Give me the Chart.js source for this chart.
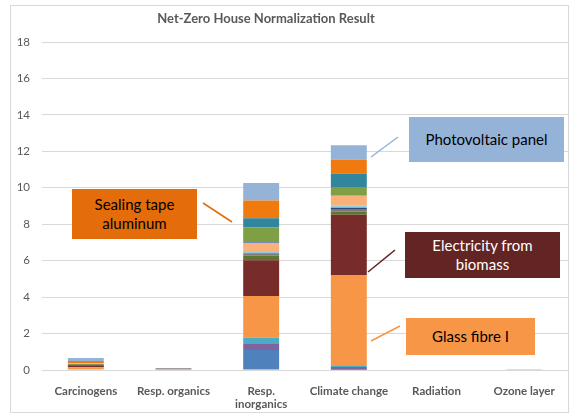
<!DOCTYPE html>
<html>
<head>
<meta charset="utf-8">
<script src="https://cdn.jsdelivr.net/npm/chart.js@4.4.1/dist/chart.umd.min.js"></script>
<style>
  html, body { margin: 0; padding: 0; background: #fff; }
  #wrap { position: relative; width: 572px; height: 415px; overflow: hidden; font-family: Lato, "Open Sans", sans-serif; }
  #frame { position: absolute; left: 10px; top: 5px; width: 559px; height: 408px; border: 1px solid #D9D9D9; box-sizing: border-box; }
  canvas { position: absolute; left: 0; top: 0; }
  #title { position: absolute; top: 10px; left: 155px; width: 222px; text-align: center; font: bold 13px Lato, sans-serif; color: #595959; white-space: nowrap; }
  .callout { position: absolute; box-sizing: border-box; display: flex; align-items: center; justify-content: center; text-align: center; font: 15px Lato, sans-serif; line-height: 1.25; }
  svg { position: absolute; left: 0; top: 0; }
</style>
</head>
<body>
<div id="wrap">
  <div id="frame"></div>
  <canvas id="c" width="572" height="415"></canvas>
  <div id="title">Net-Zero House Normalization Result</div>
  <svg width="572" height="415">
    <line x1="203" y1="203" x2="232" y2="222" stroke="#E46C0A" stroke-width="1.5"/>
    <line x1="371" y1="157" x2="398" y2="137" stroke="#95B3D7" stroke-width="1.5"/>
    <line x1="368" y1="272" x2="395" y2="250" stroke="#632523" stroke-width="1.5"/>
    <line x1="371" y1="341" x2="400" y2="326" stroke="#F79646" stroke-width="1.5"/>
  </svg>
  <div class="callout" style="left:72px;top:189px;width:125px;height:50px;background:#E46C0A;color:#000;">Sealing tape<br>aluminum</div>
  <div class="callout" style="left:409px;top:117px;width:155px;height:45px;background:#95B3D7;color:#000;">Photovoltaic panel</div>
  <div class="callout" style="left:405px;top:232px;width:155px;height:46px;background:#632523;color:#fff;">Electricity from<br>biomass</div>
  <div class="callout" style="left:406px;top:318px;width:129px;height:37px;background:#F79646;color:#000;">Glass fibre I</div>
</div>
<script>
// Categories (x axis)
const categories = ["Carcinogens", "Resp. organics", ["Resp.", "inorganics"], "Climate change", "Radiation", "Ozone layer"];
// Y axis ticks
const yTicks = [0, 2, 4, 6, 8, 10, 12, 14, 16, 18];

// Series (stack order bottom -> top), values per category
const seriesNames = [
  "Steel", "Concrete", "Insulation", "Glass fibre I", "Electricity from biomass",
  "Timber", "Other", "Copper", "Gypsum", "Mineral wool", "PVC",
  "Wood fibre", "Inverter", "Sealing tape aluminum", "Photovoltaic panel"
];
const steel        = [0.00, 0.00, 1.10, 0.02, 0, 0];
const concrete     = [0.00, 0.00, 0.33, 0.15, 0, 0];
const insulation   = [0.00, 0.00, 0.35, 0.09, 0, 0];
const glassFibre   = [0.15, 0.00, 2.28, 4.96, 0, 0];
const electricity  = [0.11, 0.00, 1.96, 3.30, 0, 0];
const timber       = [0.05, 0.00, 0.26, 0.18, 0, 0];
const other        = [0.00, 0.10, 0.08, 0.10, 0, 0.04];
const copper       = [0.00, 0.00, 0.04, 0.10, 0, 0];
const gypsum       = [0.00, 0.00, 0.07, 0.11, 0, 0];
const mineralWool  = [0.06, 0.00, 0.50, 0.55, 0, 0];
const pvc          = [0.00, 0.00, 0.04, 0.00, 0, 0];
const woodFibre    = [0.00, 0.00, 0.83, 0.48, 0, 0];
const inverter     = [0.00, 0.00, 0.49, 0.75, 0, 0];
const sealingTape  = [0.12, 0.00, 0.97, 0.75, 0, 0];
const photovoltaic = [0.17, 0.00, 0.96, 0.79, 0, 0];

const seriesValues = [steel, concrete, insulation, glassFibre, electricity, timber, other, copper,
  gypsum, mineralWool, pvc, woodFibre, inverter, sealingTape, photovoltaic];
const seriesColors = ["#4F81BD", "#8064A2", "#4BACC6", "#F79646", "#772C2A", "#5F7530", "#857780",
  "#2C4D75", "#93CDDD", "#FAB07A", "#4F6FB0", "#7F9F45", "#31859C", "#F07A0E", "#95B3D7"];

const datasets = seriesNames.map((n, i) => ({
  label: n,
  data: seriesValues[i],
  backgroundColor: seriesColors[i],
  borderWidth: 0,
  categoryPercentage: 1.0,
  barPercentage: 0.41
}));

new Chart(document.getElementById("c"), {
  type: "bar",
  data: { labels: categories, datasets },
  options: {
    responsive: false,
    animation: false,
    layout: { padding: { left: 11, right: 4, top: 42, bottom: 5 } },
    plugins: { legend: { display: false }, tooltip: { enabled: false }, title: { display: false } },
    scales: {
      x: {
        stacked: true,
        grid: { display: false },
        border: { display: true, color: "#D9D9D9" },
        ticks: { color: "#595959", font: { family: "Lato", size: 11.5, weight: "bold" }, padding: 6, maxRotation: 0, autoSkip: false },
        afterFit: s => { s.height = 40; }
      },
      y: {
        stacked: true,
        min: 0, max: 18,
        afterBuildTicks: s => { s.ticks = yTicks.map(v => ({ value: v })); },
        grid: { color: "#D9D9D9", drawTicks: false },
        border: { display: false },
        ticks: { color: "#595959", font: { family: "Lato", size: 11.5 }, padding: 12 },
        afterFit: s => { s.width = 31; }
      }
    }
  }
});
</script>
</body>
</html>
